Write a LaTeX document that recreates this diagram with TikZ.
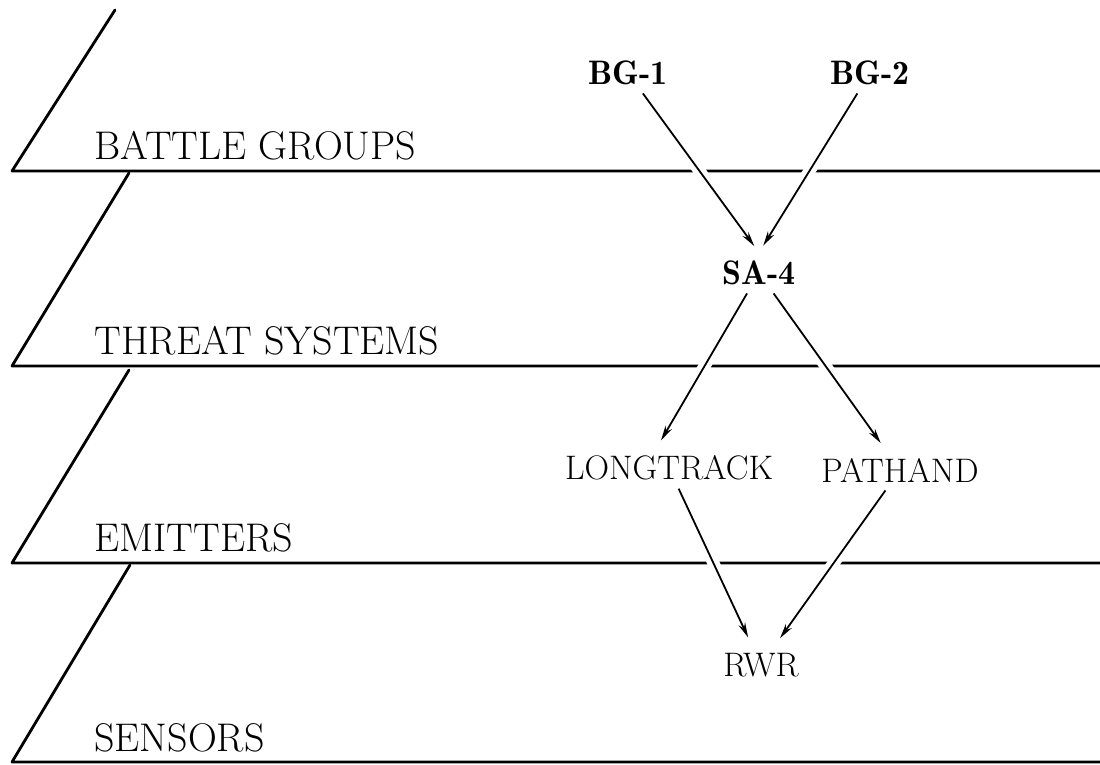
\documentclass[tikz,border=0pt]{standalone}
\usepackage{tikz}
\usetikzlibrary{arrows.meta}

\begin{document}
\begin{tikzpicture}[
    x=0.5pt, y=-0.5pt,
    plane/.style={line width=1.4pt, line cap=round, line join=round},
    lbl/.style={anchor=base west, inner sep=0pt, font=\fontsize{20}{22}\selectfont},
    obj/.style={inner sep=4pt, font=\fontsize{17}{20}\selectfont},
    objb/.style={obj, font=\fontsize{17}{20}\selectfont\fontseries{b}\selectfont},
    arr/.style={-{Stealth[length=7.5pt,width=3.6pt]}, line width=0.9pt, shorten >=4pt,
      preaction={draw, color=white, line width=6pt, arrows=-}},
  ]
  \useasboundingbox (0,0) rectangle (1100,765);
  % the four layers
  \foreach \yb/\xt/\yt/\lab in {171/115/10/BATTLE GROUPS, 366/129/173/THREAT SYSTEMS,
      563/129/370/EMITTERS, 762/130/565/SENSORS}{
    \draw[plane] (\xt,\yt) -- (12,\yb) -- (1100,\yb);
    \node[lbl] at (94,\yb-11) {\lab};
  }
  % objects
  \node[objb] (bgA) at (628,73) {BG-1};
  \node[objb] (bgB) at (870,73) {BG-2};
  \node[objb] (sa) at (759,273) {SA-4};
  \node[obj] (longtrack) at (669,468) {LONGTRACK};
  \node[obj] (pathand) at (900,470) {PATHAND};
  \node[obj] (rwr) at (761,665) {RWR};
  \draw[arr] (bgA) -- (sa.north);
  \draw[arr] (bgB) -- (sa.north);
  \draw[arr] (sa) -- ([xshift=-6pt]longtrack.north);
  \draw[arr] (sa) -- (pathand);
  \draw[arr] (longtrack) -- (rwr);
  \draw[arr] (pathand) -- (rwr);
\end{tikzpicture}
\end{document}
